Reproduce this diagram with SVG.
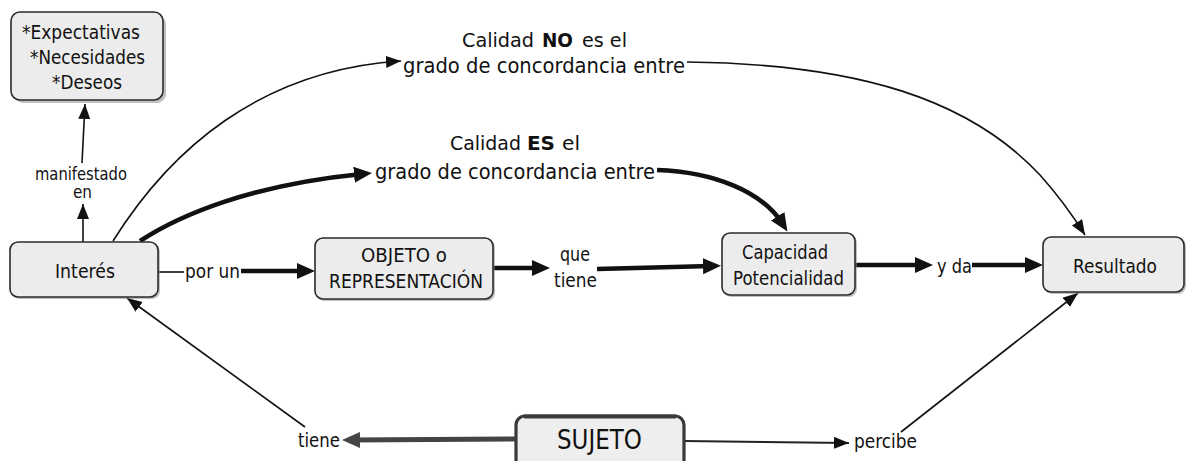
<svg xmlns="http://www.w3.org/2000/svg" width="1188" height="461" viewBox="0 0 1188 461">
<style>
text{font-family:"DejaVu Sans","Liberation Sans",sans-serif;fill:#111}
.box{fill:#ececec;stroke:#2b2b2b;stroke-width:1.6}
.sh{fill:#8c8c8c;opacity:.55}
.thin{fill:none;stroke:#111;stroke-width:1.6}
.thick{fill:none;stroke:#111;stroke-width:4.5}
.b{font-weight:bold}
</style>
<defs>
<marker id="as" markerUnits="userSpaceOnUse" markerWidth="16" markerHeight="13" refX="15" refY="6" orient="auto"><path d="M0,0 L15,6 L0,12 z" fill="#111"/></marker>
<marker id="ah" markerUnits="userSpaceOnUse" markerWidth="20" markerHeight="18" refX="8" refY="8" orient="auto"><path d="M0,0 L18,8 L0,16 z" fill="#111"/></marker>
<marker id="ahg" markerUnits="userSpaceOnUse" markerWidth="20" markerHeight="18" refX="8" refY="8" orient="auto"><path d="M0,0 L18,8 L0,16 z" fill="#444"/></marker>
</defs>
<rect width="1188" height="461" fill="#fff"/>
<g id="connectors">
<path class="thin" d="M83,242 L83,204" marker-end="url(#as)"/>
<path class="thin" d="M82,163 L85,104" marker-end="url(#as)"/>
<path class="thin" d="M113,241 C170,150 260,70 401,61" marker-end="url(#as)"/>
<path class="thin" d="M687,62 C860,64 970,100 1040,175 Q1065,203 1085,235" marker-end="url(#as)"/>
<path class="thick" d="M140,241 C180,215 250,185 362,174" marker-end="url(#ah)"/>
<path class="thick" d="M657,170 C715,172 762,192 782,223" marker-end="url(#ah)"/>
<path class="thin" d="M158,272 L184,272"/>
<path class="thick" d="M241,271 L305,271" marker-end="url(#ah)"/>
<path class="thick" d="M493,268 L540,268" marker-end="url(#ah)"/>
<path class="thick" d="M597,269 L711,266" marker-end="url(#ah)"/>
<path class="thick" d="M855,265 L923,265" marker-end="url(#ah)"/>
<path class="thick" d="M972,265 L1033,265" marker-end="url(#ah)"/>
<path fill="none" stroke="#444" stroke-width="5" d="M515,439 L352,440" marker-end="url(#ahg)"/>
<path class="thin" d="M305,427 L127,298" marker-end="url(#as)"/>
<path fill="none" stroke="#222" stroke-width="2" d="M684,441 L849,443" marker-end="url(#as)"/>
<path class="thin" d="M901,432 L1078,293" marker-end="url(#as)"/>
</g>
<g id="labels">
<text x="35" y="180" font-size="17" textLength="92" lengthAdjust="spacingAndGlyphs">manifestado</text>
<text x="73" y="198" font-size="17" textLength="19" lengthAdjust="spacingAndGlyphs">en</text>
<text x="462" y="47" font-size="20" textLength="72" lengthAdjust="spacingAndGlyphs">Calidad</text>
<text class="b" x="542" y="47" font-size="20" textLength="31" lengthAdjust="spacingAndGlyphs">NO</text>
<text x="582" y="47" font-size="20" textLength="45" lengthAdjust="spacingAndGlyphs">es el</text>
<text x="403" y="73" font-size="22" textLength="282" lengthAdjust="spacingAndGlyphs">grado de concordancia entre</text>
<text x="450" y="150" font-size="20" textLength="71" lengthAdjust="spacingAndGlyphs">Calidad</text>
<text class="b" x="527" y="150" font-size="20" textLength="28" lengthAdjust="spacingAndGlyphs">ES</text>
<text x="562" y="150" font-size="20" textLength="18" lengthAdjust="spacingAndGlyphs">el</text>
<text x="375" y="179" font-size="22" textLength="280" lengthAdjust="spacingAndGlyphs">grado de concordancia entre</text>
<text x="185" y="278" font-size="19" textLength="55" lengthAdjust="spacingAndGlyphs">por un</text>
<text x="560" y="261" font-size="19" textLength="30" lengthAdjust="spacingAndGlyphs">que</text>
<text x="554" y="287" font-size="19" textLength="43" lengthAdjust="spacingAndGlyphs">tiene</text>
<text x="937" y="273" font-size="19" textLength="35" lengthAdjust="spacingAndGlyphs">y da</text>
<text x="298" y="447" font-size="19" textLength="42" lengthAdjust="spacingAndGlyphs">tiene</text>
<text x="854" y="448" font-size="19" textLength="63" lengthAdjust="spacingAndGlyphs">percibe</text>
</g>
<g id="node-expectativas">
<rect class="sh" x="14" y="15" width="152" height="88" rx="9"/>
<rect class="box" x="11" y="12" width="152" height="88" rx="9"/>
<text x="22" y="39" font-size="20" textLength="118" lengthAdjust="spacingAndGlyphs">*Expectativas</text>
<text x="30" y="64" font-size="20" textLength="115" lengthAdjust="spacingAndGlyphs">*Necesidades</text>
<text x="52" y="89" font-size="20" textLength="70" lengthAdjust="spacingAndGlyphs">*Deseos</text>
</g>
<g id="node-interes">
<rect class="sh" x="12" y="244" width="148" height="55" rx="8"/>
<rect class="box" x="10" y="242" width="148" height="55" rx="8"/>
<text x="55" y="278" font-size="20" textLength="60" lengthAdjust="spacingAndGlyphs">Interés</text>
</g>
<g id="node-objeto">
<rect class="sh" x="317" y="240" width="178" height="61" rx="8"/>
<rect class="box" x="315" y="238" width="178" height="61" rx="8"/>
<text x="361" y="262" font-size="19" textLength="86" lengthAdjust="spacingAndGlyphs">OBJETO o</text>
<text x="329" y="288" font-size="19" textLength="154" lengthAdjust="spacingAndGlyphs">REPRESENTACIÓN</text>
</g>
<g id="node-capacidad">
<rect class="sh" x="724" y="235" width="133" height="62" rx="8"/>
<rect class="box" x="722" y="233" width="133" height="62" rx="8"/>
<text x="742" y="259" font-size="19" textLength="86" lengthAdjust="spacingAndGlyphs">Capacidad</text>
<text x="733" y="285" font-size="19" textLength="111" lengthAdjust="spacingAndGlyphs">Potencialidad</text>
</g>
<g id="node-resultado">
<rect class="sh" x="1045" y="239" width="141" height="55" rx="8"/>
<rect class="box" x="1043" y="237" width="141" height="55" rx="8"/>
<text x="1073" y="273" font-size="19" textLength="84" lengthAdjust="spacingAndGlyphs">Resultado</text>
</g>
<g id="node-sujeto">
<rect x="516" y="416" width="168" height="54" rx="9" fill="#eeeeee" stroke="#3a3a3a" stroke-width="3.2"/>
<path d="M524,416.5 L676,416.5" stroke="#3a3a3a" stroke-width="4" fill="none"/>
<text x="557" y="449" font-size="26" textLength="85" lengthAdjust="spacingAndGlyphs">SUJETO</text>
</g>
</svg>
